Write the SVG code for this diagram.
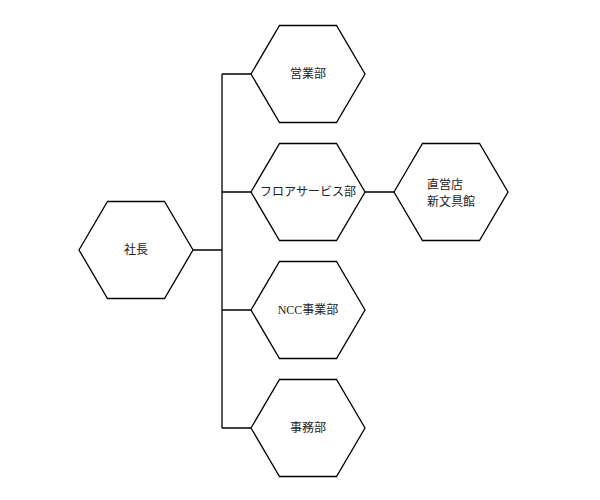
<svg xmlns="http://www.w3.org/2000/svg" width="600" height="500" viewBox="0 0 600 500">
<style>
.hex{fill:#fff;stroke:#000;stroke-width:1.3}
.ln{fill:none;stroke:#000;stroke-width:1.3}
text{font-family:"Liberation Serif","Noto Sans CJK JP",serif;font-size:12px;fill:#222}
.c{text-anchor:middle}
</style>
<defs>
<polygon id="hx" points="-57,0 -28.5,-48.5 28.5,-48.5 57,0 28.5,48.5 -28.5,48.5"/>
</defs>
<rect width="600" height="500" fill="#fff"/>
<g id="connectors">
<path class="ln" d="M193,250 H222 M222,74 V428 M222,74 H251 M222,192 H251 M222,310 H251 M222,428 H251 M365,192 H394"/>
</g>
<g id="shacho"><use href="#hx" class="hex" x="136" y="250"/><text class="c" x="136" y="254">社長</text></g>
<g id="eigyo"><use href="#hx" class="hex" x="308" y="74"/><text class="c" x="308" y="78">営業部</text></g>
<g id="floor"><use href="#hx" class="hex" x="308" y="192"/><text class="c" x="308" y="196">フロアサービス部</text></g>
<g id="ncc"><use href="#hx" class="hex" x="308" y="310"/><text class="c" x="308" y="314">NCC事業部</text></g>
<g id="jimu"><use href="#hx" class="hex" x="308" y="428"/><text class="c" x="308" y="432">事務部</text></g>
<g id="chokuei"><use href="#hx" class="hex" x="451" y="192"/><text x="427" y="189">直営店</text><text x="427" y="206">新文具館</text></g>
</svg>
